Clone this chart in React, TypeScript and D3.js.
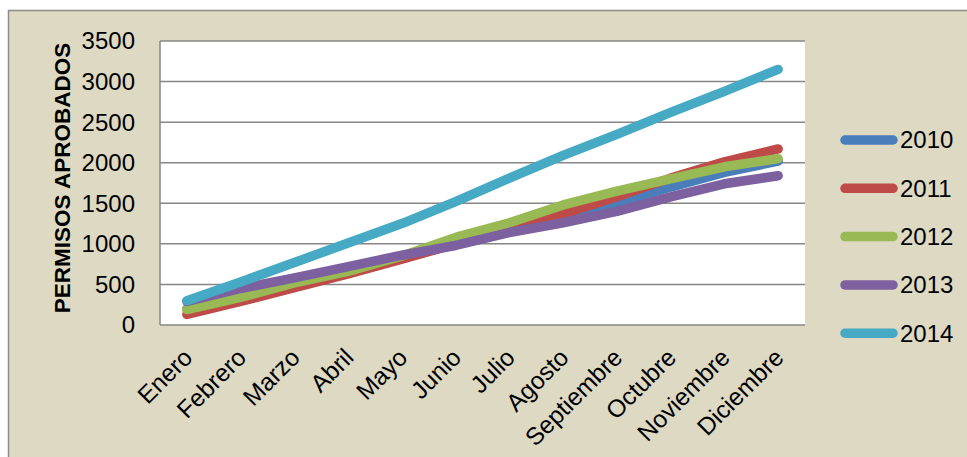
import * as d3 from "d3";

const months = [
  "Enero", "Febrero", "Marzo", "Abril", "Mayo", "Junio",
  "Julio", "Agosto", "Septiembre", "Octubre", "Noviembre", "Diciembre",
];
const years = ["2010", "2011", "2012", "2013", "2014"];
const s2010 = [200, 340, 480, 640, 820, 1000, 1160, 1330, 1500, 1700, 1880, 2020];
const s2011 = [130, 290, 460, 630, 810, 1000, 1170, 1370, 1580, 1810, 2010, 2170];
const s2012 = [190, 340, 520, 660, 850, 1080, 1260, 1480, 1650, 1800, 1950, 2050];
const s2013 = [290, 450, 580, 720, 860, 980, 1140, 1260, 1400, 1580, 1740, 1840];
const s2014 = [300, 530, 770, 1010, 1250, 1520, 1810, 2090, 2350, 2620, 2880, 3150];
const yTicks = [0, 500, 1000, 1500, 2000, 2500, 3000, 3500];

const seriesValues = [s2010, s2011, s2012, s2013, s2014];
const colors = ["#4A7EBB", "#BE4B48", "#98B954", "#7D60A0", "#46AAC5"];

const font = "'Liberation Sans', Arial, sans-serif";

export default function App() {
  const W = 967;
  const H = 457;
  const plot = { left: 160, right: 805, top: 41, bottom: 325 };

  const x = d3.scaleBand<string>().domain(months).range([plot.left, plot.right]);
  const y = d3.scaleLinear().domain([0, 3500]).range([plot.bottom, plot.top]);

  const line = d3
    .line<number>()
    .x((_, i) => x(months[i])! + x.bandwidth() / 2)
    .y((d) => y(d));

  return (
    <svg
      width={W}
      height={H}
      style={{ position: "absolute", left: 0, top: 0, fontFamily: font }}
    >
      <rect x={0} y={0} width={W} height={H} fill="#fff" />
      <rect x={8.5} y={10.5} width={1100} height={600} fill="#DDD9C3" stroke="#8C8C8C" strokeWidth={1.5} />
      <rect
        x={plot.left}
        y={plot.top}
        width={plot.right - plot.left}
        height={plot.bottom - plot.top}
        fill="#fff"
      />

      {yTicks.map((t) => (
        <g key={t}>
          <line x1={plot.left} x2={plot.right} y1={y(t)} y2={y(t)} stroke="#868686" strokeWidth={1.5} />
          <text x={135} y={y(t)} dy="0.35em" textAnchor="end" fontSize={24} fill="#000">
            {t}
          </text>
        </g>
      ))}
      <line x1={plot.left} x2={plot.left} y1={plot.top} y2={plot.bottom} stroke="#868686" strokeWidth={1.5} />

      {months.map((m) => {
        const cx = x(m)! + x.bandwidth() / 2;
        return (
          <text
            key={m}
            transform={`translate(${cx + 7},${plot.bottom + 34}) rotate(-45)`}
            textAnchor="end"
            fontSize={24.5}
            fill="#000"
          >
            {m}
          </text>
        );
      })}

      <text
        transform={`translate(70,${(plot.top + plot.bottom) / 2 - 5}) rotate(-90)`}
        textAnchor="middle"
        fontSize={22.5}
        fontWeight="bold"
        fill="#000"
      >
        PERMISOS APROBADOS
      </text>

      {seriesValues.map((vals, i) => (
        <path
          key={years[i]}
          d={line(vals)!}
          fill="none"
          stroke={colors[i]}
          strokeWidth={9.5}
          strokeLinecap="round"
          strokeLinejoin="round"
        />
      ))}

      {years.map((yr, i) => {
        const ly = 140 + i * 48.3;
        return (
          <g key={yr}>
            <line x1={845} x2={893} y1={ly} y2={ly} stroke={colors[i]} strokeWidth={9.5} strokeLinecap="round" />
            <text x={900} y={ly} dy="0.35em" fontSize={24} fill="#000">
              {yr}
            </text>
          </g>
        );
      })}
    </svg>
  );
}
